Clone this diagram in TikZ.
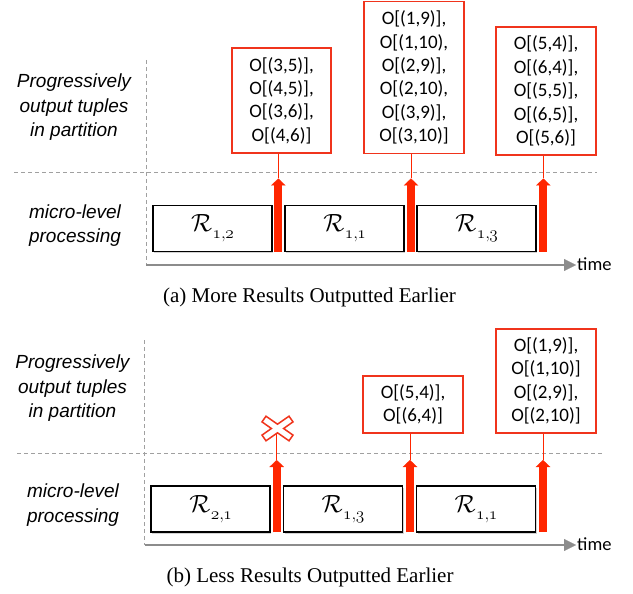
\documentclass[tikz,border=0pt]{standalone}
\usepackage{fontspec}
\usetikzlibrary{arrows.meta,shadows}
\newfontfamily\boxfont{Carlito}
\newfontfamily\labfont{Liberation Sans}
\newfontfamily\capfont{Liberation Serif}
\definecolor{arrred}{RGB}{255,38,0}
\definecolor{boxred}{RGB}{240,52,28}
\definecolor{dashgray}{RGB}{160,160,160}
\definecolor{axisgray}{RGB}{140,140,140}
\newcommand{\Rsub}[2]{$\mathcal{R}$\kern0.3pt\raisebox{-7pt}{\fontsize{18.5}{18.5}\usefont{OML}{cmm}{m}{it}#1;\kern-0.5pt#2}}
\begin{document}
\begin{tikzpicture}[x=1pt,y=-1pt,
  outbox/.style={draw=boxred, line width=1.5pt, fill=white, inner sep=0pt, align=center,
    font=\boxfont\fontsize{19}{23.4}\selectfont},
  procbox/.style={draw=black, line width=1.6pt, fill=white, inner sep=0pt,
    minimum width=119pt, minimum height=46pt, font=\fontsize{27}{30}\selectfont,
    drop shadow={shadow xshift=1.2pt, shadow yshift=-1.5pt, opacity=0.35}},
  sidelabel/.style={align=center, inner sep=0pt, font=\labfont\itshape\fontsize{19}{24.5}\selectfont},
  timelabel/.style={anchor=west, inner sep=0pt, font=\boxfont\fontsize{18.5}{22}\selectfont},
  captext/.style={inner sep=0pt, font=\capfont\fontsize{21}{24}\selectfont},
  guide/.style={draw=dashgray, line width=0.8pt, dash pattern=on 4pt off 3pt},
  axisline/.style={draw=axisgray, line width=2pt, -{Triangle[length=12pt,width=12pt,line width=0.1pt]}},
  bigarrow/.style={draw=arrred, line width=7.7pt, -{Triangle[length=7pt,width=14.5pt,line width=0.1pt]}},
  link/.style={draw=arrred, line width=1pt},
  xmark/.style={draw=boxred, line width=1.5pt, fill=white, line join=miter},
]
\useasboundingbox (0,0) rectangle (633,594);

% ---------------- panel (a) ----------------
\node[sidelabel] (pa) at (74,107.5) {Progressively\\output tuples\\in partition};
\node[sidelabel] (ma) at (75,225.5) {micro-level\\processing};

\coordinate (va0) at (146,60);
\coordinate (va1) at (146,265);
\coordinate (ha0) at (14,172);
\coordinate (ha1) at (597,172);
\draw[guide] (va0) -- (va1);
\draw[guide] (ha0) -- (ha1);

\coordinate (axa0) at (146,265);
\coordinate (axa1) at (576,265);
\draw[axisline] (axa0) -- (axa1);
\node[timelabel] (ta) at (577,264) {time};

\node[procbox] (r12) at (212.5,228.3) {\Rsub{1}{2}};
\node[procbox] (r11) at (344.7,228.3) {\Rsub{1}{1}};
\node[procbox] (r13) at (476.7,228.3) {\Rsub{1}{3}};

\node[outbox, minimum width=99pt, minimum height=105pt] (oa1) at (281.5,100.5)
  {O[(3,5)],\\O[(4,5)],\\O[(3,6)],\\O[(4,6)]};
\node[outbox, minimum width=100pt, minimum height=152pt] (oa2) at (414,77.5)
  {O[(1,9)],\\O[(1,10),\\O[(2,9)],\\O[(2,10),\\O[(3,9)],\\O[(3,10)]};
\node[outbox, minimum width=100pt, minimum height=128pt] (oa3) at (546,91)
  {O[(5,4)],\\O[(6,4)],\\O[(5,5)],\\O[(6,5)],\\O[(5,6)]};

\coordinate (pa1) at (278.3,251.7);
\coordinate (qa1) at (278.3,178.5);
\coordinate (pa2) at (411,251.7);
\coordinate (qa2) at (411,178.5);
\coordinate (pa3) at (543.3,251.7);
\coordinate (qa3) at (543.3,178.5);
\draw[link] (oa1.south -| qa1) -- (qa1);
\draw[link] (oa2.south -| qa2) -- (qa2);
\draw[link] (oa3.south -| qa3) -- (qa3);
\draw[bigarrow] (pa1) -- (qa1);
\draw[bigarrow] (pa2) -- (qa2);
\draw[bigarrow] (pa3) -- (qa3);

\node[captext] (capa) at (309.5,297) {(a) More Results Outputted Earlier};

% ---------------- panel (b) ----------------
\node[sidelabel] (pb) at (72.5,388.5) {Progressively\\output tuples\\in partition};
\node[sidelabel] (mb) at (73,505) {micro-level\\processing};

\coordinate (vb0) at (144.5,340);
\coordinate (vb1) at (144.5,545);
\coordinate (hb0) at (17,453);
\coordinate (hb1) at (603,453);
\draw[guide] (vb0) -- (vb1);
\draw[guide] (hb0) -- (hb1);

\coordinate (axb0) at (144.5,545);
\coordinate (axb1) at (576,545);
\draw[axisline] (axb0) -- (axb1);
\node[timelabel] (tb) at (577,544) {time};

\node[procbox] (r21) at (210.7,509.2) {\Rsub{2}{1}};
\node[procbox] (r13b) at (343,509.2) {\Rsub{1}{3}};
\node[procbox] (r11b) at (476,509.2) {\Rsub{1}{1}};

\node[outbox, minimum width=100pt, minimum height=57pt] (ob2) at (413,404.5)
  {O[(5,4)],\\O[(6,4)]};
\node[outbox, minimum width=100pt, minimum height=104pt] (ob3) at (546,381)
  {O[(1,9)],\\O[(1,10)]\\O[(2,9)],\\O[(2,10)]};

\coordinate (xm) at (277.5,428.5);
\coordinate (pb1) at (276.7,532.3);
\coordinate (qb1) at (276.7,460);
\coordinate (pb2) at (410,532.3);
\coordinate (qb2) at (410,460);
\coordinate (pb3) at (543,532.3);
\coordinate (qb3) at (543,460);
\draw[link] (xm -| qb1) -- (qb1);
\draw[link] (ob2.south -| qb2) -- (qb2);
\draw[link] (ob3.south -| qb3) -- (qb3);
\draw[bigarrow] (pb1) -- (qb1);
\draw[bigarrow] (pb2) -- (qb2);
\draw[bigarrow] (pb3) -- (qb3);

\begin{scope}[shift={(xm)}]
  \draw[xmark] (6.1,0) -- (15.5,6.6) -- (11.5,12.3) -- (0,4.3) -- (-11.5,12.3)
    -- (-15.5,6.6) -- (-6.1,0) -- (-15.5,-6.6) -- (-11.5,-12.3) -- (0,-4.3)
    -- (11.5,-12.3) -- (15.5,-6.6) -- cycle;
\end{scope}

\node[captext] (capb) at (310,577) {(b) Less Results Outputted Earlier};
\end{tikzpicture}
\end{document}
